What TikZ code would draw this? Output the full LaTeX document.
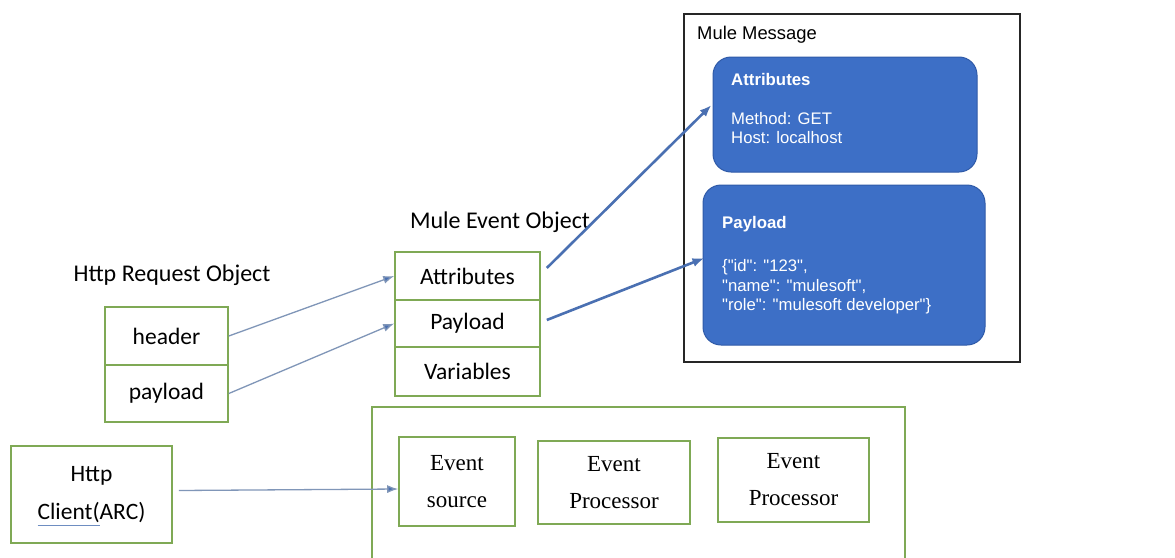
\documentclass[tikz,border=0pt]{standalone}
\usepackage{fontspec}
\setmainfont{Carlito}
\newfontfamily\arialf{Liberation Sans}
\newfontfamily\serf{Liberation Serif}
\usetikzlibrary{calc,arrows.meta}
\definecolor{grn}{HTML}{7FA955}
\definecolor{bluebox}{HTML}{3D6FC6}
\definecolor{blueedge}{HTML}{2F5AA8}
\definecolor{arrgray}{HTML}{8096B8}
\definecolor{arrblue}{HTML}{4A70B2}
\tikzset{
  gbox/.style={draw=grn, line width=1.6pt, rectangle, inner sep=0pt, align=center, font=\fontsize{23.5}{28}\selectfont},
  sbox/.style={gbox, font=\serf\fontsize{23}{37}\selectfont},
  bbox/.style={draw=blueedge, fill=bluebox, line width=1pt, rectangle, rounded corners=18pt, inner sep=0pt},
  btxt/.style={text=white, anchor=west, inner sep=0pt, font=\arialf\fontsize{16.7}{19.5}\selectfont, align=left},
  bhead/.style={btxt, font=\arialf\bfseries\fontsize{16.8}{19}\selectfont},
  thinarr/.style={draw=arrgray, line width=1.3pt, -{Latex[length=11pt,width=8pt,fill=arrblue]}},
  thickarr/.style={draw=arrblue, line width=2.6pt, -{Latex[length=12pt,width=9pt]}},
  lbl/.style={inner sep=0pt, font=\fontsize{24}{28}\selectfont}
}
\begin{document}
\begin{tikzpicture}[x=1pt,y=-1pt]
\useasboundingbox[fill=white] (0,0) rectangle (1175,557);

% Http request object
\node[lbl] (hrolbl) at (172,275) {Http Request Object};
\node[gbox, minimum width=123pt, minimum height=58pt] (header) at (166.5,336) {header};
\node[gbox, minimum width=123pt, minimum height=57pt] (payload) at (166.5,393.5) {payload};

% Mule event object
\node[lbl] (meolbl) at (500,222) {Mule Event Object};
\node[gbox, minimum width=145pt, minimum height=48pt] (evattr) at (467.5,276) {Attributes};
\node[gbox, minimum width=145pt, minimum height=47pt] (evpay) at (467.5,323.5) {Payload};
\node[gbox, minimum width=145pt, minimum height=49pt] (evvar) at (467.5,371.5) {Variables};

% Mule message
\node[draw=black!85, line width=1.3pt, minimum width=336pt, minimum height=348pt, inner sep=0pt] (mm) at (852,188) {};
\node[anchor=west, inner sep=0pt, font=\arialf\fontsize{18.4}{21}\selectfont] (mmlbl) at (697,35) {Mule Message};
\node[bbox, minimum width=264pt, minimum height=115pt] (battr) at (845,114.5) {};
\node[bhead] (battrt) at (731,79) {Attributes};
\node[btxt] (battrb) at (731,128) {Method: GET\\Host: localhost};
\node[bbox, minimum width=282pt, minimum height=160pt] (bpay) at (844,265) {};
\node[bhead] (bpayt) at (722,224) {Payload};
\node[btxt] (bpayb) at (722,287) {\{"id": "123",\\"name": "mulesoft",\\"role": "mulesoft developer"\}};

% Flow
\draw[draw=grn, line width=1.6pt] (372,562) -- (372,407) -- (905,407) -- (905,562);
\node[sbox, minimum width=116pt, minimum height=89pt] (evsrc) at (457,481.5) {Event\\source};
\node[sbox, minimum width=152pt, minimum height=83pt] (ep1) at (614,482.5) {Event\\Processor};
\node[sbox, minimum width=151pt, minimum height=84pt] (ep2) at (793.5,480) {Event\\Processor};

\node[gbox, minimum width=161pt, minimum height=97pt, font=\fontsize{23.5}{38}\selectfont] (client) at (91.5,494.5) {Http\\Client(ARC)};
\draw[draw=arrblue!80, line width=1pt] ($(client.center)+(-54,31)$) coordinate (ul1) -- ($(client.center)+(8,31)$) coordinate (ul2);

% Arrows
\draw[thinarr] (header.east) -- (evattr.west);
\draw[thinarr] (payload.east) -- (evpay.west);
\draw[thickarr] ($(evattr.east)+(6,-8)$) -- ($(battr.west)+(-1,-9.5)$);
\draw[thickarr] ($(evpay.east)+(6,-3.5)$) -- ($(bpay.west)+(2,-7)$);
\draw[thinarr] ($(client.east)+(6,-4)$) -- ($(evsrc.west)+(0,7.5)$);
\end{tikzpicture}
\end{document}
